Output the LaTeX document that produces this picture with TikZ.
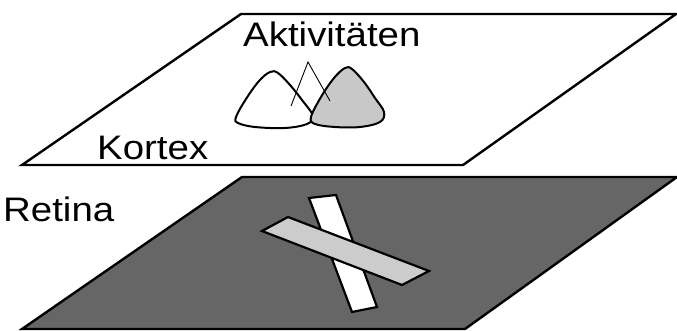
\documentclass[tikz,border=0pt]{standalone}
\usepackage{fontspec}
\setmainfont{Liberation Sans}
\begin{document}
\begin{tikzpicture}[x=1pt,y=-1pt,
  plane/.style={draw=black,line width=2.4pt,line join=miter},
  bar/.style={draw=black,line width=2.2pt,line join=miter},
  hill/.style={draw=black,line width=2pt},
  thin/.style={draw=black,line width=0.9pt},
  label/.style={inner sep=0pt,anchor=base west,font=\fontsize{34}{40}\selectfont}]
\useasboundingbox (0,0) rectangle (677,331);
% lower plane (retina)
\fill[white] (0,0) rectangle (677,331);
\path[plane,fill={rgb,255:red,102;green,102;blue,102}]
  (22,329) -- (465,329) -- (677,177) -- (242,177) -- cycle;
% upper plane (cortex)
\path[plane,fill=white]
  (22,165) -- (463,165) -- (676,14) -- (241,14) -- cycle;
% stimulus bars on the retina
\path[bar,fill=white] (309,198) -- (336,195) -- (377,307) -- (352,312) -- cycle;
\path[bar,fill={rgb,255:red,204;green,204;blue,204}]
  (262,231) -- (288,217) -- (429,271) -- (402,285) -- cycle;
% activity hills on the cortex
\path[hill,fill=white] plot[smooth cycle,tension=0.6] coordinates
  {(236,117) (246,99) (259,81) (270,72) (278,73) (290,85) (302,100) (313,116)
   (307,124) (285,128) (255,127) (238,123)};
\path[hill,fill={rgb,255:red,200;green,200;blue,200}] plot[smooth cycle,tension=0.6] coordinates
  {(311,117) (321,97) (334,78) (345,68) (352,69) (364,82) (375,98) (384,112)
   (380,122) (360,127) (335,127) (315,124)};
\draw[thin] (291,106) -- (308,62) -- (330,101);
% labels
\node[label] (akt) at (243,47) {\scalebox{1.13}[1]{Aktivitäten}};
\node[label] (kor) at (97,160) {\scalebox{1.13}[1]{Kortex}};
\node[label] (ret) at (3,222) {\scalebox{1.13}[1]{Retina}};
\end{tikzpicture}
\end{document}
